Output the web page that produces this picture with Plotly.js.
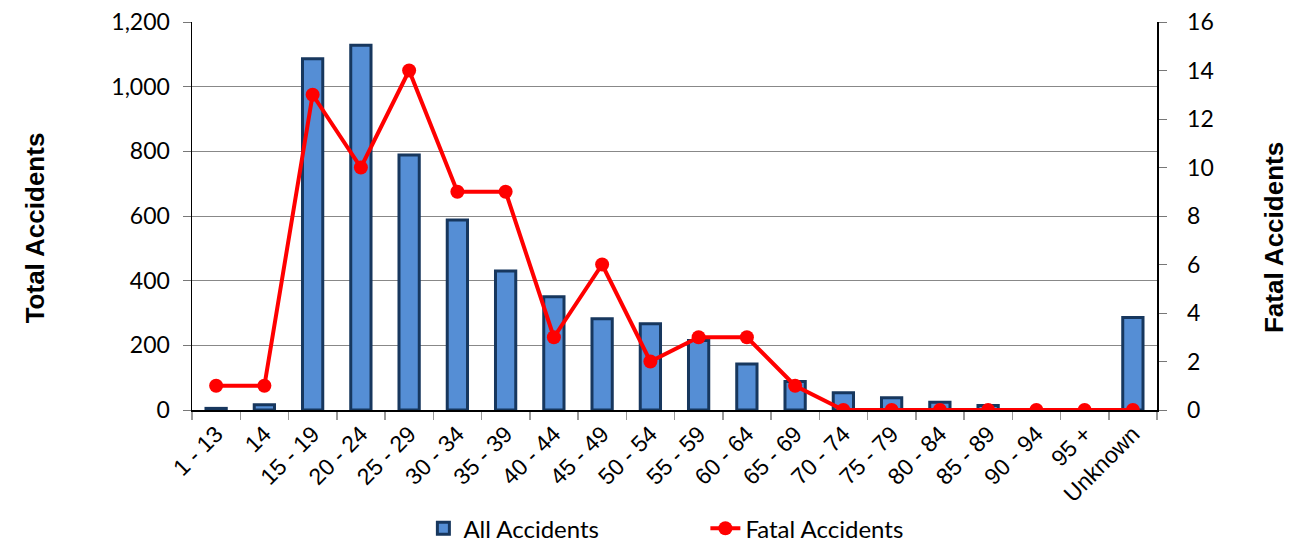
<!DOCTYPE html>
<html>
<head>
<meta charset="utf-8">
<script src="https://cdn.plot.ly/plotly-3.0.1.min.js"></script>
<style>html,body{margin:0;padding:0;background:#fff;}#chart{width:1296px;height:545px;}</style>
</head>
<body>
<div id="chart"></div>
<script>
const categories = ["1 - 13","14","15 - 19","20 - 24","25 - 29","30 - 34","35 - 39","40 - 44","45 - 49","50 - 54","55 - 59","60 - 64","65 - 69","70 - 74","75 - 79","80 - 84","85 - 89","90 - 94","95 +","Unknown"];
const allAccidents = [5,16,1086,1128,789,588,430,350,282,267,215,142,88,53,38,24,14,0,0,286];
const fatalAccidents = [1,1,13,10,14,9,9,3,6,2,3,3,1,0,0,0,0,0,0,0];

const traces = [
  {
    type: 'bar', name: 'All Accidents', x: categories, y: allAccidents,
    marker: {color: '#558ED5', line: {color: '#17375E', width: 3}},
    width: 0.42, yaxis: 'y'
  },
  {
    type: 'scatter', mode: 'lines+markers', name: 'Fatal Accidents', x: categories, y: fatalAccidents,
    line: {color: '#FF0000', width: 4}, marker: {color: '#FF0000', size: 14},
    yaxis: 'y2'
  }
];

const layout = {
  width: 1296, height: 545,
  margin: {l: 192, r: 139, t: 22, b: 135},
  paper_bgcolor: '#fff', plot_bgcolor: '#fff',
  font: {family: 'Liberation Sans, Arial, sans-serif', size: 22, color: '#000'},
  showlegend: true,
  legend: {
    orientation: 'h', xref: 'paper', x: 0.532, xanchor: 'center',
    yref: 'container', y: 0.03, yanchor: 'middle',
    font: {family: 'Lato, Open Sans, sans-serif', size: 24, color: '#000'},
    entrywidth: 237, entrywidthmode: 'pixels', traceorder: 'normal'
  },
  xaxis: {
    type: 'category', range: [-0.5, 19.5], autorange: false, automargin: false,
    tickangle: -45, showline: true, linecolor: '#000', linewidth: 1.5,
    ticks: 'outside', tickson: 'boundaries', ticklen: 8, tickcolor: '#999', tickwidth: 1.5,
    showgrid: false, tickfont: {size: 23}, zeroline: false
  },
  yaxis: {
    range: [0, 1200], autorange: false, automargin: false, dtick: 200, tickformat: ',d',
    showline: true, linecolor: '#000', linewidth: 1.5,
    ticks: 'outside', ticklen: 8, tickcolor: '#777', showgrid: true, gridcolor: '#888', gridwidth: 1,
    zeroline: false, tickfont: {family: 'Lato, Open Sans, sans-serif', size: 23}, ticklabelstandoff: 8
  },
  yaxis2: {
    range: [0, 16], autorange: false, automargin: false, dtick: 2, overlaying: 'y', side: 'right',
    showline: true, linecolor: '#000', linewidth: 1.5,
    ticks: 'outside', ticklen: 8, tickcolor: '#777', showgrid: false, zeroline: false,
    tickfont: {family: 'Lato, Open Sans, sans-serif', size: 23}, ticklabelstandoff: 16
  },
  annotations: [
    {text: '<b>Total Accidents</b>', xref: 'paper', yref: 'paper', x: -0.163, y: 0.47,
     xanchor: 'center', yanchor: 'middle', textangle: -90, showarrow: false, font: {size: 26}},
    {text: '<b>Fatal Accidents</b>', xref: 'paper', yref: 'paper', x: 1.122, y: 0.445,
     xanchor: 'center', yanchor: 'middle', textangle: -90, showarrow: false, font: {size: 26}}
  ]
};

Plotly.newPlot('chart', traces, layout, {staticPlot: true});
</script>
</body>
</html>
